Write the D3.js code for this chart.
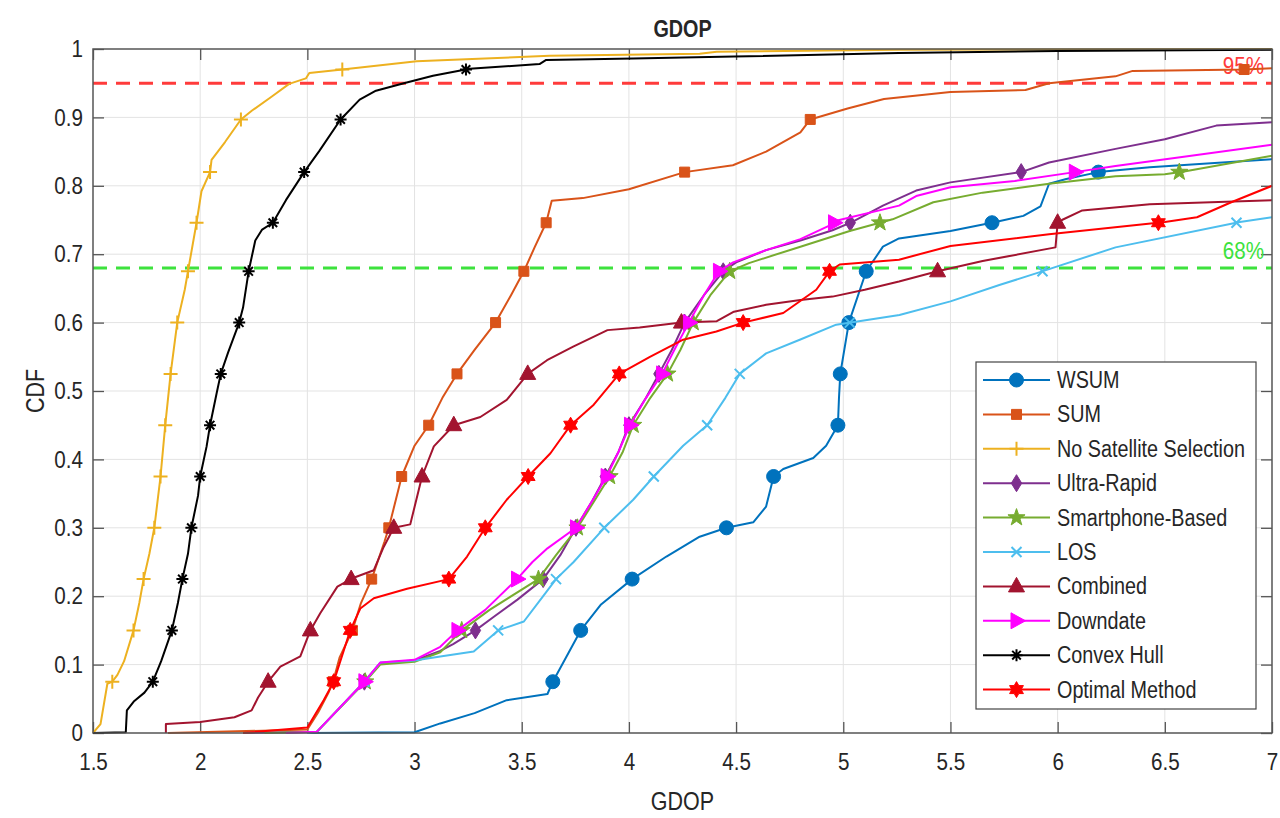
<!DOCTYPE html>
<html>
<head>
<meta charset="utf-8">
<script src="https://cdn.jsdelivr.net/npm/d3@7"></script>
<style>
  body { margin: 0; background: #fff; }
  text { font-family: "Liberation Sans", Arial, Helvetica, sans-serif; fill: #262626; }
</style>
</head>
<body>
<div id="chart"></div>
<script>
// ---- data ----
const xTicks = [1.5, 2, 2.5, 3, 3.5, 4, 4.5, 5, 5.5, 6, 6.5, 7];
const yTicks = [0, 0.1, 0.2, 0.3, 0.4, 0.5, 0.6, 0.7, 0.8, 0.9, 1];
const markerLevels = [0.075, 0.15, 0.225, 0.3, 0.375, 0.45, 0.525, 0.6, 0.675, 0.746, 0.82, 0.897, 0.97];
const refLevels = [0.95, 0.68];
const refLabels = ['95%', '68%'];

const seriesNames = ['WSUM', 'SUM', 'No Satellite Selection', 'Ultra-Rapid', 'Smartphone-Based',
  'LOS', 'Combined', 'Downdate', 'Convex Hull', 'Optimal Method'];

const wsum = [[2.5,0],[3.0,0.001],[3.12,0.014],[3.28,0.029],[3.43,0.048],[3.62,0.057],[3.645,0.075],[3.775,0.15],
  [3.87,0.188],[4.015,0.225],[4.175,0.258],[4.33,0.287],[4.455,0.3],[4.58,0.308],[4.64,0.331],[4.675,0.375],
  [4.72,0.386],[4.86,0.402],[4.92,0.42],[4.975,0.45],[4.98,0.49],[4.986,0.525],[5.026,0.6],[5.107,0.675],
  [5.185,0.711],[5.26,0.723],[5.5,0.734],[5.71,0.747],[5.84,0.756],[5.92,0.77],[5.96,0.803],[6.04,0.81],
  [6.19,0.82],[6.43,0.827],[7.0,0.839]];
const sum = [[1.85,0],[2.5,0.005],[2.55,0.03],[2.6,0.06],[2.62,0.075],[2.65,0.11],[2.71,0.15],[2.75,0.19],
  [2.80,0.225],[2.86,0.28],[2.88,0.3],[2.94,0.375],[3.0,0.42],[3.066,0.45],[3.13,0.49],[3.198,0.525],
  [3.28,0.56],[3.378,0.6],[3.45,0.64],[3.51,0.675],[3.56,0.71],[3.614,0.746],[3.64,0.778],[3.785,0.782],
  [4.0,0.795],[4.26,0.82],[4.485,0.83],[4.64,0.85],[4.8,0.878],[4.846,0.897],[5.02,0.913],[5.19,0.927],
  [5.5,0.937],[5.85,0.94],[5.96,0.95],[6.27,0.96],[6.35,0.968],[6.87,0.97],[7.0,0.972]];
const noSelection = [[1.5,0],[1.535,0.013],[1.567,0.072],[1.59,0.075],[1.614,0.085],[1.645,0.105],[1.689,0.15],
  [1.716,0.19],[1.736,0.225],[1.763,0.262],[1.786,0.3],[1.815,0.375],[1.837,0.45],[1.862,0.525],[1.893,0.6],
  [1.928,0.648],[1.943,0.675],[1.983,0.746],[2.006,0.792],[2.046,0.82],[2.053,0.838],[2.116,0.864],[2.19,0.897],
  [2.242,0.91],[2.336,0.931],[2.415,0.949],[2.493,0.957],[2.509,0.965],[2.663,0.97],[3.01,0.982],[3.24,0.985],
  [3.63,0.99],[4.33,0.993],[4.41,0.996],[5.26,0.999],[7.0,1.0]];
const ultraRapid = [[2.2,0],[2.545,0.002],[2.766,0.075],[2.84,0.102],[3.0,0.106],[3.12,0.12],[3.18,0.13],
  [3.284,0.15],[3.37,0.17],[3.48,0.195],[3.6,0.225],[3.68,0.26],[3.753,0.3],[3.83,0.34],[3.89,0.375],
  [3.95,0.41],[4.0,0.45],[4.08,0.49],[4.14,0.525],[4.2,0.56],[4.26,0.6],[4.35,0.64],[4.44,0.675],[4.5,0.688],
  [4.64,0.706],[4.8,0.72],[4.95,0.735],[5.04,0.747],[5.185,0.771],[5.34,0.793],[5.5,0.805],[5.83,0.82],
  [5.96,0.834],[6.27,0.854],[6.5,0.868],[6.74,0.888],[7.0,0.893]];
const smartphone = [[2.3,0],[2.545,0.002],[2.77,0.075],[2.84,0.1],[3.0,0.104],[3.12,0.118],[3.22,0.15],
  [3.35,0.18],[3.578,0.225],[3.66,0.26],[3.76,0.3],[3.84,0.34],[3.91,0.375],[3.97,0.41],[4.02,0.45],
  [4.1,0.49],[4.18,0.525],[4.24,0.56],[4.3,0.6],[4.38,0.64],[4.47,0.675],[4.56,0.687],[4.8,0.711],
  [5.03,0.734],[5.23,0.751],[5.42,0.776],[5.65,0.79],[5.96,0.803],[6.27,0.814],[6.5,0.817],[6.59,0.821],
  [7.0,0.844]];
const los = [[2.5,0],[2.545,0.002],[2.766,0.075],[2.84,0.103],[3.0,0.106],[3.12,0.112],[3.276,0.119],
  [3.39,0.15],[3.51,0.163],[3.6,0.2],[3.66,0.225],[3.742,0.25],[3.885,0.3],[4.02,0.341],[4.116,0.375],
  [4.253,0.42],[4.365,0.45],[4.45,0.49],[4.517,0.525],[4.64,0.555],[4.797,0.575],[4.967,0.597],
  [5.262,0.611],[5.5,0.631],[5.728,0.655],[5.91,0.673],[6.27,0.71],[6.85,0.747],[7.0,0.754]];
const combined = [[1.84,0],[1.84,0.013],[2.0,0.016],[2.16,0.023],[2.24,0.033],[2.27,0.052],[2.317,0.075],
  [2.374,0.097],[2.467,0.112],[2.514,0.15],[2.56,0.175],[2.64,0.214],[2.716,0.227],[2.81,0.238],
  [2.856,0.272],[2.903,0.3],[2.98,0.305],[3.035,0.375],[3.09,0.419],[3.183,0.45],[3.307,0.462],
  [3.43,0.487],[3.528,0.525],[3.618,0.545],[3.74,0.565],[3.9,0.589],[4.05,0.593],[4.245,0.6],[4.41,0.602],
  [4.49,0.616],[4.64,0.626],[4.8,0.633],[4.95,0.638],[5.1,0.648],[5.26,0.66],[5.44,0.675],[5.65,0.69],
  [5.99,0.71],[6.0,0.746],[6.02,0.75],[6.115,0.764],[6.43,0.773],[7.0,0.779]];
const downdate = [[2.4,0],[2.545,0.002],[2.766,0.075],[2.84,0.103],[3.0,0.107],[3.12,0.126],[3.2,0.15],
  [3.33,0.18],[3.478,0.225],[3.55,0.25],[3.62,0.27],[3.753,0.3],[3.83,0.34],[3.896,0.375],[3.95,0.41],
  [4.005,0.45],[4.08,0.49],[4.155,0.525],[4.22,0.565],[4.28,0.6],[4.35,0.64],[4.42,0.675],[4.486,0.688],
  [4.64,0.706],[4.8,0.722],[4.95,0.744],[4.967,0.749],[5.26,0.771],[5.34,0.785],[5.5,0.798],[5.8,0.807],
  [6.08,0.82],[6.27,0.829],[6.58,0.842],[7.0,0.86]];
const convexHull = [[1.5,0],[1.653,0.001],[1.658,0.033],[1.69,0.046],[1.74,0.059],[1.779,0.075],[1.818,0.105],
  [1.868,0.15],[1.896,0.19],[1.917,0.225],[1.943,0.262],[1.959,0.3],[1.99,0.347],[2.0,0.375],[2.03,0.419],
  [2.046,0.45],[2.077,0.497],[2.096,0.525],[2.13,0.556],[2.182,0.6],[2.2,0.622],[2.226,0.675],[2.257,0.72],
  [2.289,0.736],[2.339,0.746],[2.4,0.779],[2.485,0.82],[2.556,0.851],[2.655,0.897],[2.744,0.926],
  [2.82,0.939],[2.95,0.95],[3.086,0.961],[3.257,0.971],[3.583,0.978],[3.614,0.984],[4.02,0.986],
  [4.49,0.989],[5.26,0.994],[6.0,0.997],[7.0,0.999]];
const optimal = [[2.2,0],[2.5,0.008],[2.576,0.048],[2.623,0.075],[2.70,0.15],[2.747,0.182],[2.81,0.197],
  [2.965,0.211],[3.16,0.225],[3.245,0.258],[3.33,0.3],[3.43,0.341],[3.53,0.375],[3.634,0.409],[3.728,0.45],
  [3.836,0.48],[3.955,0.525],[4.098,0.55],[4.253,0.575],[4.408,0.587],[4.533,0.6],[4.72,0.614],
  [4.874,0.648],[4.936,0.675],[4.983,0.685],[5.26,0.692],[5.5,0.712],[5.96,0.729],[6.5,0.747],
  [6.65,0.754],[6.81,0.776],[7.0,0.8]];

const seriesData = [wsum, sum, noSelection, ultraRapid, smartphone, los, combined, downdate, convexHull, optimal];

// ---- styles ----
const seriesColors = ['#0072BD', '#D95319', '#EDB120', '#7E2F8E', '#77AC30',
  '#4DBEEE', '#A2142F', '#FF00FF', '#000000', '#FF0000'];
const seriesMarkers = ['circle', 'square', 'plus', 'diamond', 'pentagram',
  'cross', 'triangle', 'right', 'asterisk', 'hexagram'];

const W = 1280, H = 818;
const margin = {top: 49, right: 8, bottom: 85, left: 93};
const width = W - margin.left - margin.right;
const height = H - margin.top - margin.bottom;
const squeeze = 0.86; // reference text is narrow

function star(n, R, r) {
  const pts = [];
  for (let i = 0; i < 2 * n; i++) {
    const a = -Math.PI / 2 + i * Math.PI / n;
    const rad = i % 2 === 0 ? R : r;
    pts.push([rad * Math.cos(a), rad * Math.sin(a)]);
  }
  return 'M' + pts.map(p => p[0].toFixed(2) + ',' + p[1].toFixed(2)).join('L') + 'Z';
}

const markerShapes = {
  circle:    {d: 'M-7,0A7,7 0 1,0 7,0A7,7 0 1,0 -7,0Z', filled: true},
  square:    {d: 'M-5,-5H5V5H-5Z', filled: true},
  diamond:   {d: 'M0,-8.5L5.2,0L0,8.5L-5.2,0Z', filled: true},
  pentagram: {d: star(5, 9, 3.6), filled: true},
  triangle:  {d: 'M0,-9L8,5.5L-8,5.5Z', filled: true},
  right:     {d: 'M9,0L-5.5,-8L-5.5,8Z', filled: true},
  hexagram:  {d: star(6, 8, 4.6), filled: true},
  plus:      {d: 'M-7,0H7M0,-7V7', filled: false},
  cross:     {d: 'M-5,-5L5,5M-5,5L5,-5', filled: false},
  asterisk:  {d: 'M-6,0H6M0,-6V6M-4.3,-4.3L4.3,4.3M-4.3,4.3L4.3,-4.3', filled: false}
};

function levelX(pts, level) {
  for (let i = 1; i < pts.length; i++) {
    if (pts[i][1] >= level) {
      const [x0, y0] = pts[i - 1], [x1, y1] = pts[i];
      if (y1 === y0) return x1;
      return x0 + (x1 - x0) * (level - y0) / (y1 - y0);
    }
  }
  return null;
}

const svg = d3.select('#chart').append('svg')
    .attr('width', W)
    .attr('height', H)
    .style('background', '#fff');

const x = d3.scaleLinear().domain([1.5, 7]).range([0, width]);
const y = d3.scaleLinear().domain([0, 1]).range([height, 0]);

svg.append('defs').append('clipPath').attr('id', 'plot-clip')
  .append('rect').attr('x', -2).attr('y', -8).attr('width', width + 4).attr('height', height + 10);

const g = svg.append('g').attr('transform', `translate(${margin.left},${margin.top})`);

// grid
g.append('g').selectAll('line')
    .data(xTicks.slice(1, -1))
  .join('line')
    .attr('x1', d => x(d)).attr('x2', d => x(d))
    .attr('y1', 0).attr('y2', height)
    .attr('stroke', '#e3e3e3').attr('stroke-width', 1);
g.append('g').selectAll('line')
    .data(yTicks.slice(1, -1))
  .join('line')
    .attr('y1', d => y(d)).attr('y2', d => y(d))
    .attr('x1', 0).attr('x2', width)
    .attr('stroke', '#e3e3e3').attr('stroke-width', 1);

// axes (ticks inward)
const tick = 11;
const xAxis = g.append('g').attr('transform', `translate(0,${height})`)
    .call(d3.axisBottom(x).tickValues(xTicks).tickSize(-tick).tickSizeOuter(0).tickPadding(20).tickFormat(d => String(d)));
g.append('g')
    .call(d3.axisTop(x).tickValues(xTicks).tickSize(-tick).tickSizeOuter(0).tickFormat(''));
const yAxis = g.append('g')
    .call(d3.axisLeft(y).tickValues(yTicks).tickSize(-tick).tickSizeOuter(0).tickPadding(10).tickFormat(d => String(d)));
g.append('g').attr('transform', `translate(${width},0)`)
    .call(d3.axisRight(y).tickValues(yTicks).tickSize(-tick).tickSizeOuter(0).tickFormat(''));

g.selectAll('.domain').remove();
g.selectAll('.tick line').attr('stroke', '#555').attr('stroke-width', 1.3);
g.selectAll('.tick text').style('font-size', '24px').style('fill', '#262626');
xAxis.selectAll('.tick text').attr('transform', `scale(${squeeze},1)`);
yAxis.selectAll('.tick text').attr('x', -10 / squeeze).attr('transform', `scale(${squeeze},1)`);

// reference lines
const refColors = ['#ff3b3b', '#3de23d'];
g.append('g').selectAll('line')
    .data(refLevels)
  .join('line')
    .attr('x1', 0).attr('x2', width)
    .attr('y1', d => y(d)).attr('y2', d => y(d))
    .attr('stroke', (d, i) => refColors[i])
    .attr('stroke-width', 3)
    .attr('stroke-dasharray', '14,9');
g.append('g').selectAll('text')
    .data(refLevels)
  .join('text')
    .attr('transform', d => `translate(${width - 8},${y(d) - 9}) scale(${squeeze},1)`)
    .attr('text-anchor', 'end')
    .style('font-size', '24px')
    .style('fill', (d, i) => refColors[i])
    .text((d, i) => refLabels[i]);

// curves
const line = d3.line().x(d => x(d[0])).y(d => y(d[1]));
const plot = g.append('g').attr('clip-path', 'url(#plot-clip)');

seriesData.forEach((pts, i) => {
  const color = seriesColors[i];
  const shape = markerShapes[seriesMarkers[i]];
  plot.append('path')
      .datum(pts)
      .attr('fill', 'none')
      .attr('stroke', color)
      .attr('stroke-width', 2)
      .attr('stroke-linejoin', 'round')
      .attr('d', line);

  const marks = markerLevels
      .map(l => [levelX(pts, l), l])
      .filter(d => d[0] !== null);
  plot.append('g').selectAll('path')
      .data(marks)
    .join('path')
      .attr('transform', d => `translate(${x(d[0])},${y(d[1])})`)
      .attr('d', shape.d)
      .attr('fill', shape.filled ? color : 'none')
      .attr('stroke', color)
      .attr('stroke-width', shape.filled ? 1 : 2);
});

// frame
g.append('rect')
    .attr('width', width).attr('height', height)
    .attr('fill', 'none').attr('stroke', '#555').attr('stroke-width', 1.5);

// labels
svg.append('text')
    .attr('transform', `translate(${margin.left + width / 2},37) scale(${squeeze},1)`)
    .attr('text-anchor', 'middle')
    .style('font-size', '23px').style('font-weight', 'bold')
    .text('GDOP');
svg.append('text')
    .attr('transform', `translate(${margin.left + width / 2},810) scale(${squeeze},1)`)
    .attr('text-anchor', 'middle')
    .style('font-size', '25px')
    .text('GDOP');
svg.append('text')
    .attr('transform', `translate(44,${margin.top + height / 2}) rotate(-90) scale(${squeeze},1)`)
    .attr('text-anchor', 'middle')
    .style('font-size', '25px')
    .text('CDF');

// legend
const legend = svg.append('g').attr('transform', 'translate(976,362)');
legend.append('rect')
    .attr('width', 280).attr('height', 347)
    .attr('fill', '#fff').attr('stroke', '#444').attr('stroke-width', 1.2);
const rows = legend.selectAll('g.row')
    .data(seriesNames)
  .join('g')
    .attr('class', 'row')
    .attr('transform', (d, i) => `translate(0,${18 + i * 34.4})`);
rows.append('line')
    .attr('x1', 7).attr('x2', 74)
    .attr('stroke', (d, i) => seriesColors[i])
    .attr('stroke-width', 2);
rows.append('path')
    .attr('transform', 'translate(40.5,0)')
    .attr('d', (d, i) => markerShapes[seriesMarkers[i]].d)
    .attr('fill', (d, i) => markerShapes[seriesMarkers[i]].filled ? seriesColors[i] : 'none')
    .attr('stroke', (d, i) => seriesColors[i])
    .attr('stroke-width', (d, i) => markerShapes[seriesMarkers[i]].filled ? 1 : 2);
rows.append('text')
    .attr('transform', `translate(81,8) scale(${squeeze},1)`)
    .style('font-size', '23px')
    .text(d => d);
</script>
</body>
</html>
